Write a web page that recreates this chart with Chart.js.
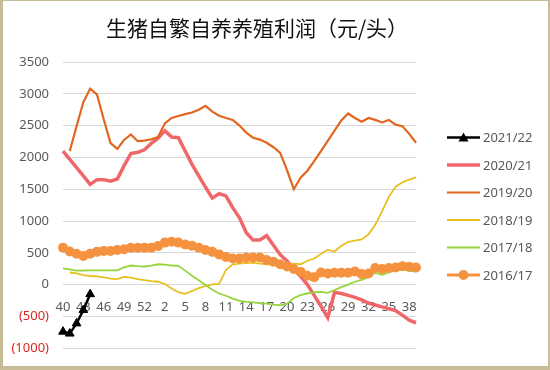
<!DOCTYPE html>
<html>
<head>
<meta charset="utf-8">
<title>生猪自繁自养养殖利润</title>
<script src="https://cdn.jsdelivr.net/npm/chart.js@4.4.1/dist/chart.umd.min.js"></script>
<style>
    html, body { margin: 0; padding: 0; background: #fff; }
    #wrap { position: relative; width: 550px; height: 370px; }
</style>
</head>
<body>
<div id="wrap"><canvas id="chart"></canvas></div>
<script>
// week numbers, 40..53 then 1..39
const weeks = [40, 41, 42, 43, 44, 45, 46, 47, 48, 49, 50, 51, 52, 53,
    1, 2, 3, 4, 5, 6, 7, 8, 9, 10, 11, 12, 13, 14, 15, 16, 17, 18, 19, 20,
    21, 22, 23, 24, 25, 26, 27, 28, 29, 30, 31, 32, 33, 34, 35, 36, 37, 38, 39];

const seriesNames = ['2021/22', '2020/21', '2019/20', '2018/19', '2017/18', '2016/17'];

const s2021 = [-740, -770, -610, -400, -150];

const s2020 = [2100, 1970, 1840, 1710, 1575, 1650, 1650, 1625, 1660, 1870, 2060, 2080, 2120, 2220,
    2300, 2420, 2320, 2310, 2100, 1890, 1710, 1530, 1360, 1430, 1395, 1210, 1050, 815, 700, 700,
    770, 620, 470, 370, 250, 130, 0, -170, -340, -520, -120, -140, -170, -200, -240, -290, -320,
    -350, -380, -410, -480, -560, -600];

const s2019 = [null, 2100, 2490, 2870, 3080, 2990, 2600, 2225, 2135, 2275, 2360, 2255, 2265, 2285,
    2320, 2535, 2620, 2650, 2680, 2705, 2750, 2810, 2720, 2655, 2620, 2590, 2500, 2390, 2310, 2280,
    2230, 2160, 2070, 1800, 1500, 1680, 1790, 1940, 2100, 2260, 2420, 2580, 2690, 2620, 2560, 2620,
    2590, 2550, 2590, 2515, 2490, 2370, 2230];

const s2018 = [null, 190, 175, 150, 135, 130, 115, 95, 85, 120, 110, 85, 70, 55,
    45, 10, -60, -120, -145, -100, -55, -20, 5, 10, 230, 320, 330, 340, 345, 330,
    320, 320, 320, 320, 330, 320, 375, 410, 480, 550, 520, 610, 670, 690, 710, 790,
    940, 1150, 1380, 1540, 1610, 1650, 1685];

const s2017 = [255, 240, 220, 222, 225, 225, 225, 225, 225, 270, 300, 290, 285, 300,
    320, 315, 300, 295, 220, 140, 70, -5, -80, -140, -175, -220, -255, -270, -280, -290,
    -300, -315, -325, -300, -210, -165, -140, -120, -115, -130, -85, -40, 0, 45, 75, 115,
    185, 155, 190, 225, 240, 215, 205];

const s2016 = [580, 520, 485, 450, 485, 515, 530, 530, 545, 555, 580, 580, 580, 580,
    605, 660, 675, 660, 630, 610, 580, 545, 515, 475, 435, 410, 410, 425, 425, 425,
    385, 360, 320, 285, 245, 200, 140, 115, 190, 175, 185, 185, 185, 205, 165, 175,
    260, 245, 260, 270, 290, 280, 270];

const TEXT_GREY = '#595959';
const FONT = '"Noto Sans", "Open Sans", sans-serif';

// white card with the thin khaki frame round it
const framePlugin = {
    id: 'frame',
    beforeDraw(chart) {
        const ctx = chart.ctx;
        ctx.save();
        ctx.fillStyle = '#ffffff';
        ctx.fillRect(0, 0, chart.width, chart.height);
        ctx.restore();
    },
    afterDraw(chart) {
        const ctx = chart.ctx;
        const w = chart.width, h = chart.height;
        ctx.save();
        ctx.fillStyle = '#c6bd97';
        ctx.fillRect(0, 0, w, 1);
        ctx.fillRect(0, 0, 3, h);
        ctx.fillRect(w - 2, 0, 2, h);
        ctx.fillRect(0, h - 4, w, 4);
        ctx.restore();
    }
};

const titlePlugin = {
    id: 'bigTitle',
    afterDraw(chart) {
        const ctx = chart.ctx;
        ctx.save();
        ctx.fillStyle = '#111111';
        ctx.font = '21px "Noto Sans CJK SC", sans-serif';
        ctx.textAlign = 'center';
        ctx.textBaseline = 'middle';
        ctx.fillText('生猪自繁自养养殖利润（元/头）', 257, 28);
        ctx.restore();
    }
};

// legend on the right: short line sample + marker + label
const legendPlugin = {
    id: 'sideLegend',
    afterDraw(chart) {
        const ctx = chart.ctx;
        ctx.save();
        chart.data.datasets.forEach((ds, i) => {
            let y = 137.5 + i * 27.5;
            ctx.strokeStyle = ds.borderColor;
            ctx.lineWidth = ds.borderWidth;
            ctx.beginPath();
            ctx.moveTo(447, y);
            ctx.lineTo(480, y);
            ctx.stroke();

            ctx.fillStyle = ds.borderColor;
            if (ds.pointStyle === 'triangle') {
                ctx.beginPath();
                ctx.moveTo(463.5, y - 5);
                ctx.lineTo(468.5, y + 4);
                ctx.lineTo(458.5, y + 4);
                ctx.closePath();
                ctx.fill();
            } else if (ds.pointStyle === 'circle' && ds.pointRadius > 0) {
                ctx.beginPath();
                ctx.arc(463.5, y, 5, 0, Math.PI * 2);
                ctx.fill();
            }

            ctx.fillStyle = TEXT_GREY;
            ctx.font = '13px ' + FONT;
            ctx.textAlign = 'left';
            ctx.textBaseline = 'middle';
            ctx.fillText(ds.label, 483, y + 1);
        });
        ctx.restore();
    }
};

function lineSet(label, data, color, width, extra) {
    return Object.assign({
        label: label,
        data: data,
        borderColor: color,
        backgroundColor: color,
        borderWidth: width,
        pointRadius: 0,
        pointHoverRadius: 0,
        tension: 0,
        spanGaps: false,
        fill: false
    }, extra || {});
}

const datasets = [
    lineSet(seriesNames[0], s2021, '#000000', 2.5, {
        pointStyle: 'triangle', pointRadius: 5, pointBorderWidth: 1, order: 0
    }),
    lineSet(seriesNames[1], s2020, '#f0676a', 3.5, {order: 6}),
    lineSet(seriesNames[2], s2019, '#e2661f', 2.2, {order: 5}),
    lineSet(seriesNames[3], s2018, '#e8c01e', 1.8, {order: 4}),
    lineSet(seriesNames[4], s2017, '#97d43d', 1.8, {order: 3}),
    lineSet(seriesNames[5], s2016, '#f5923f', 3, {
        pointStyle: 'circle', pointRadius: 5, pointBorderWidth: 0, order: 2
    })
];

new Chart(document.getElementById('chart'), {
    type: 'line',
    data: {
        labels: weeks,
        datasets: datasets
    },
    options: {
        responsive: true,
        maintainAspectRatio: false,
        animation: false,
        devicePixelRatio: 1,
        layout: {
            padding: {left: 0, right: 134, top: 62, bottom: 18}
        },
        plugins: {
            legend: {display: false},
            title: {display: false},
            tooltip: {enabled: false}
        },
        scales: {
            x: {
                type: 'category',
                position: {y: 0},
                afterFit: (scale) => { scale.height = 0; },
                grid: {display: false, drawTicks: false},
                border: {display: false},
                ticks: {
                    autoSkip: false,
                    maxRotation: 0,
                    padding: 15,
                    color: TEXT_GREY,
                    font: {family: FONT, size: 13},
                    callback: function (val, i) {
                        return i % 3 === 0 ? String(weeks[i]) : '';
                    }
                }
            },
            y: {
                min: -1000,
                max: 3500,
                afterFit: (scale) => { scale.width = 63; },
                grid: {color: '#d9d9d9', lineWidth: 1, drawTicks: false},
                border: {display: false},
                ticks: {
                    stepSize: 500,
                    padding: 14,
                    font: {family: FONT, size: 13},
                    color: (ctx) => ctx.tick && ctx.tick.value < 0 ? '#e0251f' : TEXT_GREY,
                    callback: (v) => v < 0 ? '(' + Math.abs(v) + ')' : String(v)
                }
            }
        }
    },
    plugins: [framePlugin, titlePlugin, legendPlugin]
});
</script>
</body>
</html>
